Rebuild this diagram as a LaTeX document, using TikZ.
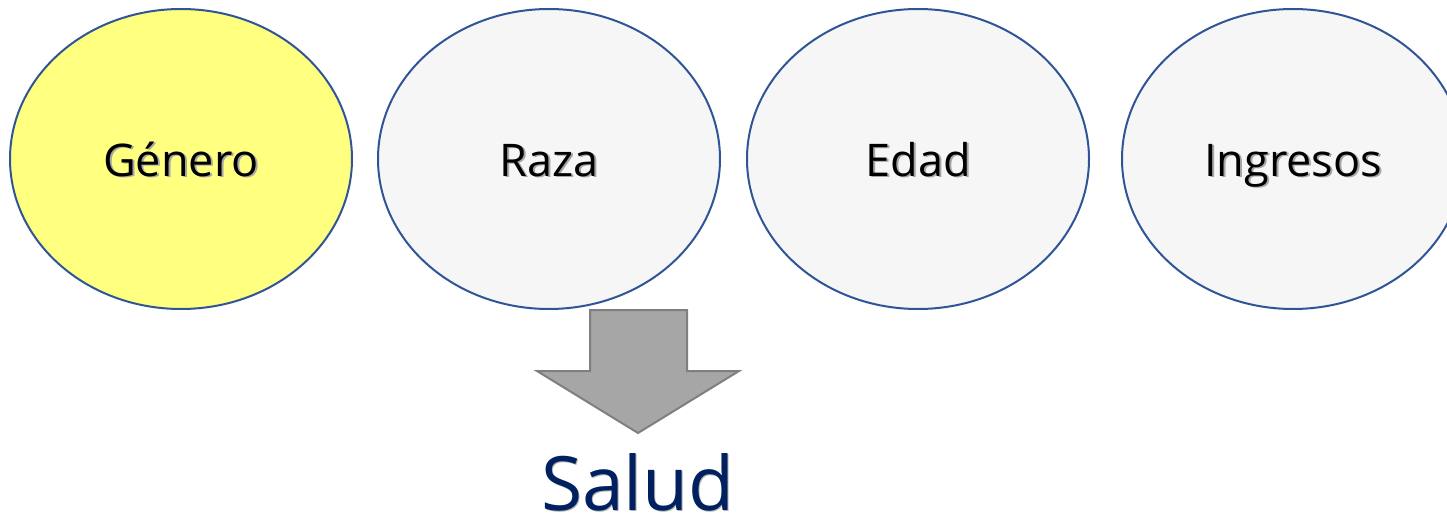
\documentclass[tikz,border=0pt]{standalone}
\usepackage{fontspec}
\setmainfont{Open Sans}
\usetikzlibrary{shapes.geometric}
\definecolor{edge}{HTML}{2F5597}
\definecolor{yel}{HTML}{FFFF80}
\definecolor{gry}{HTML}{F6F6F6}
\definecolor{arrfill}{HTML}{A6A6A6}
\definecolor{arredge}{HTML}{7F7F7F}
\definecolor{navy}{HTML}{002060}
\tikzset{
  oval/.style={ellipse, draw=edge, line width=1pt, minimum width=171pt, minimum height=150pt, inner sep=0pt},
  lbl/.style={font=\fontsize{22.5}{26}\selectfont, text=black, anchor=base, inner sep=0pt},
  shad/.style={font=\fontsize{22.5}{26}\selectfont, text=black!35, anchor=base, inner sep=0pt},
  big/.style={font=\fontsize{37.5}{44}\selectfont, anchor=base, inner sep=0pt},
}
\begin{document}
\begin{tikzpicture}[x=0.5pt,y=-0.5pt]
\useasboundingbox (0,0) rectangle (1447,525);
\begin{scope}
\clip (0,0) rectangle (1447,525);
\node[oval, fill=yel] (g) at (181,159) {};
\node[oval, fill=gry] (r) at (549,159) {};
\node[oval, fill=gry] (e) at (918,159) {};
\node[oval, fill=gry] (i) at (1293,159) {};
\end{scope}
\foreach \n/\t in {g/Género, r/Raza, e/Edad, i/Ingresos}{
  \node[shad] at ([xshift=1pt,yshift=-9pt]\n.center) {\t};
  \node[lbl] (\n l) at ([yshift=-8.5pt]\n.center) {\t};
}
\draw[fill=arrfill, draw=arredge, line width=1pt]
  (590,310) -- (687,310) -- (687,371) -- (739,371) -- (638,433) -- (537,371) -- (590,371) -- cycle;
\node[big, text=black!30] at (639,511) {Salud};
\node[big, text=navy] (s) at (638,510) {Salud};
\end{tikzpicture}
\end{document}
